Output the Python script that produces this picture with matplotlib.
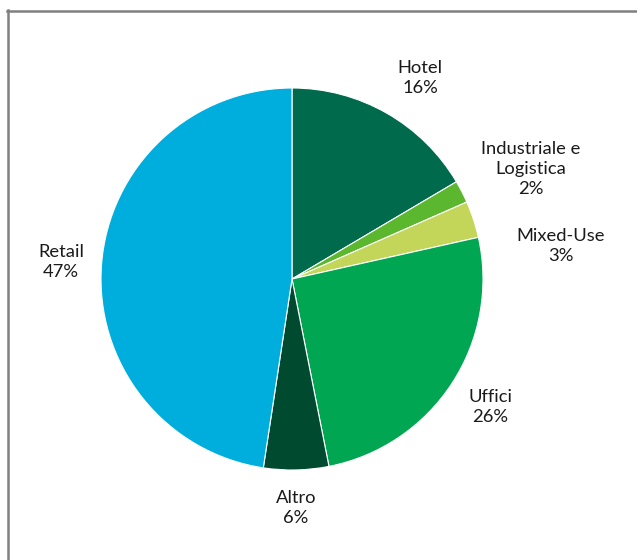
import matplotlib
matplotlib.use("Agg")
import matplotlib.pyplot as plt
from matplotlib.lines import Line2D

categories = ["Hotel", "Industriale e\nLogistica", "Mixed-Use", "Uffici", "Altro", "Retail"]
values = [16.5, 1.9, 3.1, 25.4, 5.5, 47.6]
pct_labels = ["16%", "2%", "3%", "26%", "6%", "47%"]
colors = ["#006B4C", "#5BB72E", "#C3D65A", "#00A651", "#004A30", "#00AEDD"]

# label anchor positions (pixels from top-left), layout only
label_pos = [(420, 78), (531, 169), (561, 246), (490, 407), (296, 508), (61, 262)]

W, H = 637, 560
fig = plt.figure(figsize=(W / 100, H / 100), dpi=100)
ax = fig.add_axes([0, 0, 1, 1])

cx, cy, r = 292, H - 279, 191
ax.pie(values, colors=colors, startangle=90, counterclock=False,
       center=(cx, cy), radius=r, frame=True,
       wedgeprops=dict(edgecolor="white", linewidth=0.8))
ax.set_xlim(0, W)
ax.set_ylim(0, H)
ax.set_aspect("equal")
ax.axis("off")

for cat, lab, (px, py) in zip(categories, pct_labels, label_pos):
    ax.text(px, H - py, f"{cat}\n{lab}", ha="center", va="center",
            fontsize=13.2, family=["Lato", "DejaVu Sans"], fontweight="normal",
            color="#1a1a1a", linespacing=1.32)

# frame
fig.add_artist(Line2D([8 / W, 8 / W], [0, 1 - 10 / H], transform=fig.transFigure, color="#808080", lw=1.8))
fig.add_artist(Line2D([7 / W, 1], [1 - 11 / H, 1 - 11 / H], transform=fig.transFigure, color="#808080", lw=1.8))

fig.savefig("out.png", dpi=100)
